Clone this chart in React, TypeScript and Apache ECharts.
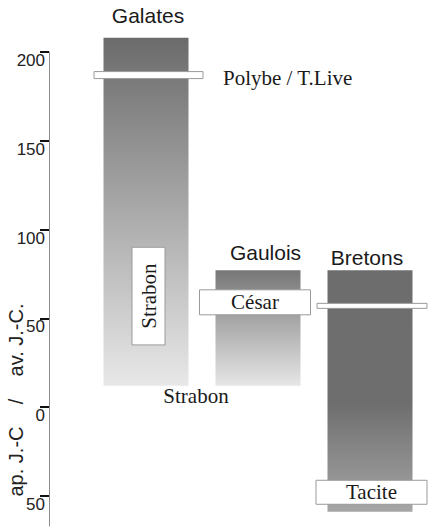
import React, { useEffect, useRef } from "react";
import * as echarts from "echarts";

// ---- data ----
const categories = ["Galates", "Gaulois", "Bretons"];
// period covered by the sources (positive = av. J.-C., negative = ap. J.-C.)
const periodStart = [208, 77, 77];
const periodEnd = [12, 12, -59];

const tickValues = [200, 150, 100, 50, 0, -50];
const axisMin = -67;
const axisMax = 200;

const sourceNames = ["Polybe / T.Live", "Strabon", "Strabon", "César", "", "Tacite"];
const sourceCategory = [0, 0, 0, 1, 2, 2];
const sourceFrom = [187, 90, 6, 59, 57, -48];
const sourceTo = [187, 35, 6, 59, 57, -48];

const axisTitle = "ap. J.-C\u00a0\u00a0\u00a0\u00a0/\u00a0\u00a0\u00a0\u00a0av. J.-C.";

// ---- styles ----
const SANS = "'Liberation Sans', Arial, sans-serif";
const SERIF = "'Liberation Serif', 'Times New Roman', serif";
const TEXT = "#1a1a1a";
const BAR_W = 85;
const barGradients = [
  [
    { offset: 0, color: "#6b6b6b" },
    { offset: 1, color: "#e8e8e8" },
  ],
  [
    { offset: 0, color: "#777777" },
    { offset: 1, color: "#e6e6e6" },
  ],
  [
    { offset: 0, color: "#6d6d6d" },
    { offset: 0.55, color: "#6e6e6e" },
    { offset: 1, color: "#a6a6a6" },
  ],
];
const barLabelDx = [2, 7.5, -3];
const barLabelDy = [-22, -18, -13];

const sourceLayout: any[] = [
  { kind: "marker", x0: -52, x1: 57, h: 7, textDx: 77, textDy: 3 },
  { kind: "vbox", x0: -14, x1: 19 },
  { kind: "text", dx: 50 },
  { kind: "box", x0: -58.5, x1: 52.5, h: 25 },
  { kind: "marker", x0: -53, x1: 57, h: 5 },
  { kind: "box", x0: -54, x1: 57, h: 24 },
];

const BOX_STYLE = { fill: "#ffffff", stroke: "#9a9a9a", lineWidth: 1 };
const SERIF_STYLE = { fill: TEXT, fontSize: 21, fontFamily: SERIF };

export default function App() {
  const ref = useRef<HTMLDivElement>(null);

  useEffect(() => {
    if (!ref.current) return;
    const chart = echarts.init(ref.current, null, { renderer: "svg" });

    const barData = categories.map((c, i) => [i, periodStart[i], periodEnd[i]]);
    const sourceData = sourceNames.map((n, i) => [sourceCategory[i], sourceFrom[i], sourceTo[i], i]);

    const option: any = {
      animation: false,
      backgroundColor: "#ffffff",
      grid: { left: 90, right: 3, top: 52, bottom: 1, containLabel: false },
      xAxis: {
        type: "category",
        data: categories,
        show: false,
      },
      yAxis: {
        type: "value",
        min: axisMin,
        max: axisMax,
        offset: 41,
        position: "left",
        splitLine: { show: false },
        axisLine: { show: true, lineStyle: { color: "#8c8c8c", width: 1 } },
        axisTick: {
          show: true,
          customValues: tickValues,
          length: 9,
          inside: false,
          lineStyle: { color: "#111111", width: 2 },
        },
        axisLabel: {
          customValues: tickValues,
          formatter: (v: number) => String(Math.abs(v)),
          margin: 4,
          verticalAlign: "top",
          fontSize: 17,
          color: "#222222",
          fontFamily: SANS,
        },
      },
      graphic: [
        {
          type: "text",
          x: 16,
          y: 400,
          rotation: Math.PI / 2,
          style: {
            text: axisTitle,
            fill: "#222222",
            fontSize: 20,
            fontFamily: SANS,
            align: "center",
            verticalAlign: "middle",
          },
        },
      ],
      series: [
        {
          type: "custom",
          data: barData,
          encode: { x: 0, y: [1, 2] },
          renderItem: (params: any, api: any) => {
            const i = api.value(0);
            const top = api.coord([i, api.value(1)]);
            const bot = api.coord([i, api.value(2)]);
            const cx = top[0];
            return {
              type: "group",
              children: [
                {
                  type: "rect",
                  shape: { x: cx - BAR_W / 2, y: top[1], width: BAR_W, height: bot[1] - top[1] },
                  style: {
                    fill: new echarts.graphic.LinearGradient(0, 0, 0, 1, barGradients[i]),
                  },
                },
                {
                  type: "text",
                  x: cx + barLabelDx[i],
                  y: top[1] + barLabelDy[i],
                  style: {
                    text: categories[i],
                    fill: TEXT,
                    fontSize: 21,
                    fontFamily: SANS,
                    align: "center",
                    verticalAlign: "middle",
                  },
                },
              ],
            };
          },
          z: 2,
        },
        {
          type: "custom",
          data: sourceData,
          encode: { x: 0, y: [1, 2] },
          renderItem: (params: any, api: any) => {
            const cat = api.value(0);
            const k = api.value(3);
            const lay = sourceLayout[k];
            const name = sourceNames[k];
            const p1 = api.coord([cat, api.value(1)]);
            const p2 = api.coord([cat, api.value(2)]);
            const cx = p1[0];
            const cy = (p1[1] + p2[1]) / 2;
            const children: any[] = [];
            if (lay.kind === "marker" || lay.kind === "box") {
              children.push({
                type: "rect",
                shape: { x: cx + lay.x0, y: cy - lay.h / 2, width: lay.x1 - lay.x0, height: lay.h },
                style: BOX_STYLE,
              });
              if (name && lay.kind === "box") {
                children.push({
                  type: "text",
                  x: cx + (lay.x0 + lay.x1) / 2,
                  y: cy,
                  style: { ...SERIF_STYLE, text: name, align: "center", verticalAlign: "middle" },
                });
              }
              if (name && lay.kind === "marker") {
                children.push({
                  type: "text",
                  x: cx + lay.textDx,
                  y: cy + lay.textDy,
                  style: { ...SERIF_STYLE, text: name, align: "left", verticalAlign: "middle" },
                });
              }
            } else if (lay.kind === "vbox") {
              children.push({
                type: "rect",
                shape: { x: cx + lay.x0, y: p1[1], width: lay.x1 - lay.x0, height: p2[1] - p1[1] },
                style: BOX_STYLE,
              });
              children.push({
                type: "text",
                x: cx + (lay.x0 + lay.x1) / 2,
                y: cy,
                rotation: Math.PI / 2,
                style: { ...SERIF_STYLE, text: name, align: "center", verticalAlign: "middle" },
              });
            } else {
              children.push({
                type: "text",
                x: cx + lay.dx,
                y: cy,
                style: { ...SERIF_STYLE, text: name, align: "center", verticalAlign: "middle" },
              });
            }
            return { type: "group", children };
          },
          z: 3,
        },
      ],
    };

    chart.setOption(option);
    return () => chart.dispose();
  }, []);

  return (
    <div
      ref={ref}
      style={{ position: "fixed", left: 0, top: 0, width: 429, height: 527 }}
    />
  );
}
